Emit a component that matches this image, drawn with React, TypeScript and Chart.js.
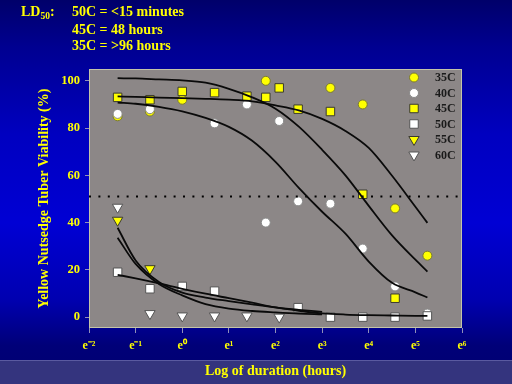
import React, { useEffect, useRef } from "react";
import { Chart, registerables } from "chart.js";

Chart.register(...registerables);

// ---------- data ----------
const seriesLabels = ["35C", "40C", "45C", "50C", "55C", "60C"];

const hours35 = [0.25, 0.5, 1, 6, 24, 48, 96, 192];
const via35 = [85, 87, 92, 100, 97, 90, 46, 26];

const hours40 = [0.25, 0.5, 2, 4, 6, 8, 12, 24, 48, 96, 192];
const via40 = [86, 88, 82, 90, 40, 83, 49, 48, 29, 13, 1.5];

const hours45 = [0.25, 0.5, 1, 2, 4, 6, 8, 12, 24, 48, 96];
const via45 = [93, 92, 95.5, 95, 93.5, 93, 97, 88, 87, 52, 8];

const hours50 = [0.25, 0.5, 1, 2, 12, 24, 48, 96, 192];
const via50 = [19, 12, 13, 11, 4, 0, 0, 0, 0.5];

const hours55 = [0.25, 0.5];
const via55 = [41, 20.5];

const hours60 = [0.25, 0.5, 1, 2, 4, 8];
const via60 = [46.5, 1.5, 0.5, 0.5, 0.5, 0];

// fitted curves, x in log(hours)
const fitLogX = [-1.386, -1, -0.5, 0, 0.5, 1, 1.5, 2, 2.5, 3, 3.5, 4, 4.5, 5, 5.258];
const fitSteep = [101.1, 101.0, 100.6, 100.2, 99.2, 96.6, 93.0, 88.2, 80.6, 70.8, 60.0, 47.1, 34.6, 24.3, 19.3];
const fitFlat = [93.4, 93.2, 92.9, 92.7, 92.4, 92.0, 91.3, 89.6, 87.5, 83.9, 78.8, 71.6, 59.8, 46.7, 39.9];
const fitInner = [90.8, 90.3, 89.0, 87.1, 84.3, 80.5, 74.6, 65.7, 54.7, 44.6, 35.3, 23.5, 14.5, 10.5, 8.3];
const fitLow50 = [17.9, 16.4, 14.3, 12.0, 9.9, 8.0, 6.1, 4.1, 2.7, 1.6, 1.1, 0.85, 0.7, 0.55, 0.5];

const fitLowX = [-1.386, -1, -0.5, 0, 0.5, 1, 1.5, 2, 2.5, 3];
const fitLow55 = [37.8, 24.0, 14.9, 10.4, 8.3, 6.8, 5.4, 4.1, 3.1, 2.2];
const fitLow60 = [33.6, 22.5, 14.0, 9.2, 5.5, 3.6, 2.6, 2.0, 1.5, 1.2];

const ld50Level = 51;

const xTickValues = [-2, -1, 0, 1, 2, 3, 4, 5, 6];
const xTickLabels = ["e\u207B\u00B2", "e\u207B\u00B9", "e\u2070", "e\u00B9", "e\u00B2", "e\u00B3", "e\u2074", "e\u2075", "e\u2076"];
const yTickValues = [0, 20, 40, 60, 80, 100];

const headerLines = ["50C = <15 minutes", "45C = 48 hours", "35C = >96 hours"];

// ---------- styles ----------
const FONT = '"Liberation Serif", "Times New Roman", serif';
const YEL = "#ffff00";
const WHITE = "#ffffff";
const PLOT_FILL = "#8c8787";
const PLOT_BORDER = "#c4c4a8";

const markerStyles = [
  { shape: "circle", fill: YEL, stroke: "#7a7a30", r: 4.5 },
  { shape: "circle", fill: WHITE, stroke: "#8a8a8a", r: 4.5 },
  { shape: "rect", fill: YEL, stroke: "#3a3a30", r: 6 },
  { shape: "rect", fill: WHITE, stroke: "#555555", r: 6 },
  { shape: "triangle", fill: YEL, stroke: "#3a3a30", r: 6 },
  { shape: "triangle", fill: WHITE, stroke: "#555555", r: 6 },
];

const seriesData = [
  [hours35, via35],
  [hours40, via40],
  [hours45, via45],
  [hours50, via50],
  [hours55, via55],
  [hours60, via60],
];

function pts(hours: number[], vals: number[]) {
  return hours.map((h, i) => ({ x: Math.log(h), y: vals[i] }));
}
function curve(xs: number[], ys: number[]) {
  return xs.map((x, i) => ({ x, y: ys[i] }));
}

function drawMarker(ctx: CanvasRenderingContext2D, st: any, x: number, y: number) {
  ctx.save();
  ctx.fillStyle = st.fill;
  ctx.strokeStyle = st.stroke;
  ctx.lineWidth = 1;
  ctx.beginPath();
  if (st.shape === "circle") {
    ctx.arc(x, y, st.r, 0, Math.PI * 2);
  } else if (st.shape === "rect") {
    const s = st.r * Math.SQRT1_2;
    ctx.rect(x - s, y - s, 2 * s, 2 * s);
  } else {
    const r = st.r;
    ctx.moveTo(x, y + r);
    ctx.lineTo(x - r * Math.sin(Math.PI / 3), y - r / 2);
    ctx.lineTo(x + r * Math.sin(Math.PI / 3), y - r / 2);
    ctx.closePath();
  }
  ctx.fill();
  ctx.stroke();
  ctx.restore();
}

const plotBgPlugin = {
  id: "plotBg",
  beforeDraw(chart: any) {
    const { ctx, chartArea: a } = chart;
    ctx.save();
    ctx.fillStyle = PLOT_FILL;
    ctx.fillRect(a.left, a.top, a.right - a.left, a.bottom - a.top);
    ctx.strokeStyle = PLOT_BORDER;
    ctx.lineWidth = 1;
    ctx.strokeRect(a.left + 0.5, a.top + 0.5, a.right - a.left - 1, a.bottom - a.top - 1);
    ctx.restore();
  },
};

const legendPlugin = {
  id: "innerLegend",
  afterDatasetsDraw(chart: any) {
    const { ctx, chartArea: a } = chart;
    ctx.save();
    ctx.font = `bold 12px ${FONT}`;
    ctx.textAlign = "left";
    ctx.textBaseline = "middle";
    seriesLabels.forEach((lab, i) => {
      const y = a.top + 8.5 + i * 15.5;
      drawMarker(ctx, markerStyles[i], a.right - 48, y);
      ctx.fillStyle = "#1a1a1a";
      ctx.fillText(lab, a.right - 27, y + 0.5);
    });
    ctx.restore();
  },
};

export default function App() {
  const ref = useRef<HTMLCanvasElement | null>(null);

  useEffect(() => {
    if (!ref.current) return;

    const curveDs = (data: any[]) => ({
      data,
      showLine: true,
      borderColor: "#0a0a0a",
      borderWidth: 1.8,
      pointRadius: 0,
      fill: false,
      cubicInterpolationMode: "monotone",
      order: 0,
    });

    const markerDs = seriesData.map(([h, v], i) => {
      const st = markerStyles[i];
      return {
        label: seriesLabels[i],
        data: pts(h as number[], v as number[]),
        showLine: false,
        pointStyle: st.shape,
        pointRotation: st.shape === "triangle" ? 180 : 0,
        pointRadius: st.r,
        pointBackgroundColor: st.fill,
        pointBorderColor: st.stroke,
        pointBorderWidth: 1,
        order: 6 - i,
      };
    });

    const chart = new Chart(ref.current, {
      type: "line",
      data: {
        datasets: [
          curveDs(curve(fitLogX, fitSteep)),
          curveDs(curve(fitLogX, fitFlat)),
          curveDs(curve(fitLogX, fitInner)),
          curveDs(curve(fitLogX, fitLow50)),
          curveDs(curve(fitLowX, fitLow55)),
          curveDs(curve(fitLowX, fitLow60)),
          {
            data: [
              { x: xTickValues[0], y: ld50Level },
              { x: xTickValues[xTickValues.length - 1], y: ld50Level },
            ],
            showLine: true,
            borderColor: "#000000",
            borderWidth: 2,
            borderDash: [2, 7.4],
            pointRadius: 0,
            fill: false,
            order: 0,
          },
          ...markerDs,
        ] as any,
      },
      options: {
        responsive: false,
        animation: false,
        layout: { padding: { left: 0, top: 69, right: 50, bottom: 0 } },
        plugins: { legend: { display: false }, tooltip: { enabled: false } },
        scales: {
          x: {
            type: "linear",
            min: -2,
            max: 6,
            afterBuildTicks: (axis: any) => {
              axis.ticks = xTickValues.map((v) => ({ value: v }));
            },
            afterFit: (s: any) => {
              s.height = 56;
            },
            ticks: {
              callback: (_v: any, i: number) => xTickLabels[i],
              color: YEL,
              font: { family: FONT, size: 12, weight: "bold" },
              padding: 6,
              maxRotation: 0,
              autoSkip: false,
            },
            grid: { drawOnChartArea: false, drawTicks: true, tickLength: 5, color: "#9090b8" },
            border: { display: false },
            title: {
              display: true,
              text: "Log of duration (hours)",
              color: YEL,
              font: { family: FONT, size: 14, weight: "bold" },
              padding: { top: 0, bottom: 4 },
            },
          },
          y: {
            type: "linear",
            min: -4.6,
            max: 105,
            afterBuildTicks: (axis: any) => {
              axis.ticks = yTickValues.map((v) => ({ value: v }));
            },
            afterFit: (s: any) => {
              s.width = 89;
            },
            ticks: {
              color: YEL,
              font: { family: FONT, size: 12.5, weight: "bold" },
              padding: 5,
            },
            grid: { drawOnChartArea: false, drawTicks: true, tickLength: 4, color: "#9090b8" },
            border: { display: false },
            title: {
              display: true,
              text: "Yellow Nutsedge Tuber Viability (%)",
              color: YEL,
              font: { family: FONT, size: 14, weight: "bold" },
              padding: { top: 36, bottom: 0 },
            },
          },
        },
      } as any,
      plugins: [plotBgPlugin, legendPlugin],
    });

    return () => chart.destroy();
  }, []);

  const textStyle: React.CSSProperties = {
    position: "absolute",
    font: `bold 14px ${FONT}`,
    lineHeight: "14px",
    color: YEL,
    whiteSpace: "nowrap",
  };

  return (
    <div
      style={{
        position: "fixed",
        left: 0,
        top: 0,
        width: 512,
        height: 384,
        overflow: "hidden",
        background:
          "linear-gradient(to bottom, #00006a 0%, #000090 12%, #0000c0 35%, #0000d4 58%, #0000b0 78%, #000078 90%, #000070 100%)",
      }}
    >
      <div
        style={{
          position: "absolute",
          left: 0,
          top: 360,
          width: 512,
          height: 24,
          background: "#34347e",
          borderTop: "1px solid #5a5aa0",
          boxSizing: "border-box",
        }}
      />
      <canvas ref={ref} width={512} height={384} style={{ position: "absolute", left: 0, top: 0 }} />
      <div style={{ ...textStyle, left: 21, top: 5 }}>
        LD
        <span style={{ fontSize: 9.5, position: "relative", top: 3 }}>50</span>:
      </div>
      {headerLines.map((t, i) => (
        <div key={i} style={{ ...textStyle, left: 72, top: [5, 23, 39][i] }}>
          {t}
        </div>
      ))}
    </div>
  );
}
